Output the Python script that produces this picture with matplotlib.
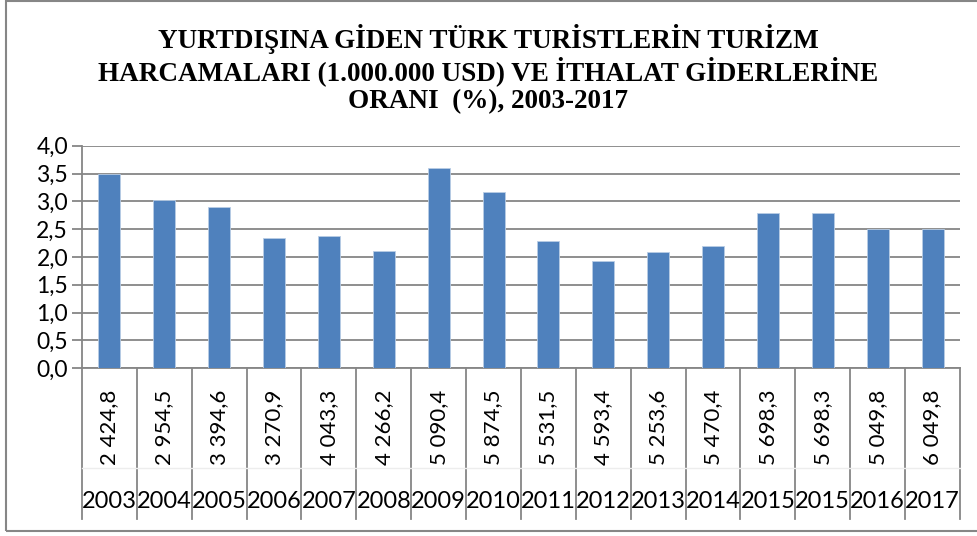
import matplotlib.pyplot as plt
import matplotlib.transforms as mtransforms
from matplotlib.patches import Rectangle

# data
years = ["2003", "2004", "2005", "2006", "2007", "2008", "2009", "2010",
         "2011", "2012", "2013", "2014", "2015", "2015", "2016", "2017"]
spending = ["2 424,8", "2 954,5", "3 394,6", "3 270,9", "4 043,3", "4 266,2",
            "5 090,4", "5 874,5", "5 531,5", "4 593,4", "5 253,6", "5 470,4",
            "5 698,3", "5 698,3", "5 049,8", "6 049,8"]
ratio = [3.50, 3.02, 2.90, 2.34, 2.37, 2.10, 3.60, 3.16,
         2.29, 1.93, 2.09, 2.19, 2.79, 2.79, 2.50, 2.50]
yticks = [0.0, 0.5, 1.0, 1.5, 2.0, 2.5, 3.0, 3.5, 4.0]

title = ("YURTDIŞINA GİDEN TÜRK TURİSTLERİN TURİZM\n"
         "HARCAMALARI (1.000.000 USD) VE İTHALAT GİDERLERİNE\n"
         "ORANI  (%), 2003-2017")

grid_col = "#868686"
bar_col = "#4F81BD"
lab_font = ["Lato", "DejaVu Sans"]

fig = plt.figure(figsize=(9.77, 5.36), dpi=100)
ax = fig.add_axes([0.0839, 0.3129, 0.8987, 0.4153])

x = list(range(len(years)))
ax.bar(x, ratio, width=0.4, color=bar_col, edgecolor="#B9CDE5", linewidth=0.6, zorder=3)

ax.set_xlim(-0.5, len(years) - 0.5)
ax.set_ylim(0, 4.0)
ax.set_yticks(yticks)
ax.set_yticklabels([f"{v:.1f}".replace(".", ",") for v in yticks],
                   fontsize=16.5, family=lab_font)
ax.set_xticks([])
ax.yaxis.grid(True, color=grid_col, linewidth=1.3, zorder=0)
ax.tick_params(axis="y", length=7, width=1.3, color=grid_col, pad=3)

for s in ["top", "right"]:
    ax.spines[s].set_visible(False)
for s in ["left", "bottom"]:
    ax.spines[s].set_color(grid_col)
    ax.spines[s].set_linewidth(1.3)

# multi-level category axis
trans = mtransforms.blended_transform_factory(ax.transData, ax.transAxes)
for i in range(len(years) + 1):
    ax.plot([i - 0.5, i - 0.5], [0, -0.677], transform=trans, color=grid_col,
            linewidth=1.3, clip_on=False)
ax.plot([-0.5, len(years) - 0.5], [-0.448, -0.448], transform=trans,
        color="#EDEDED", linewidth=1.0, clip_on=False)

for i in x:
    ax.text(i, -0.264, spending[i], transform=trans, rotation=90,
            ha="center", va="center", fontsize=16, family=lab_font)
    ax.text(i, -0.599, years[i], transform=trans, ha="center", va="center",
            fontsize=17, family=lab_font)

fig.text(0.5, 0.8715, title, ha="center", va="center", fontsize=19.5,
         fontweight="bold", family="Liberation Serif", linespacing=1.12)

# chart border
fig.patches.append(Rectangle((0.0061, 0.0093), 1.2, 0.989, transform=fig.transFigure,
                             fill=False, edgecolor=grid_col, linewidth=1.5))

fig.savefig("out.png", dpi=100)
